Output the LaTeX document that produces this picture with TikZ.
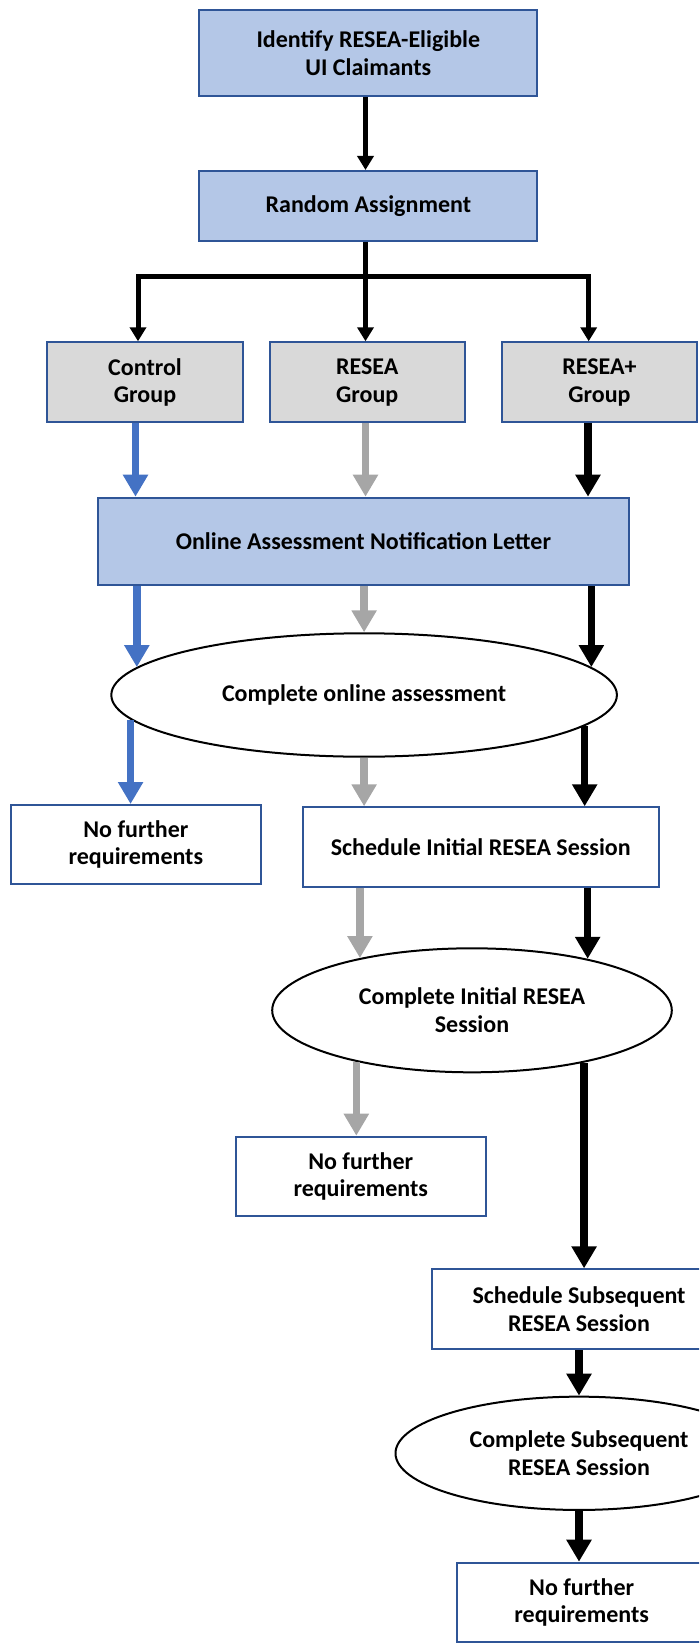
\documentclass[tikz,border=0pt]{standalone}
\usepackage{fontspec}
\setmainfont{Carlito}
\usetikzlibrary{shapes.geometric,arrows.meta}
\definecolor{boxblue}{HTML}{B4C7E7}
\definecolor{edgeblue}{HTML}{2F5597}
\definecolor{boxgray}{HTML}{D9D9D9}
\definecolor{arrblue}{HTML}{4472C4}
\definecolor{arrgray}{HTML}{A6A6A6}
\begin{document}
\begin{tikzpicture}[x=1pt,y=-1pt,
  every node/.style={font=\fontsize{24}{27.5}\selectfont\bfseries, align=center, inner sep=0pt},
  boxbase/.style={rectangle, draw=edgeblue, line width=2pt},
  bluebox/.style={boxbase, fill=boxblue},
  graybox/.style={boxbase, fill=boxgray},
  whitebox/.style={boxbase, fill=white},
  oval/.style={ellipse, draw=black, line width=2pt, fill=white},
  thinarr/.style={line width=5pt, line join=miter, -{Triangle[width=16pt,length=14pt]}},
  thickarr/.style={line width=7.5pt, -{Triangle[width=24pt,length=22pt]}},
]
\useasboundingbox (0,0) rectangle (699,1648);
\begin{scope}
\clip (0,0) rectangle (699,1648);
% nodes
\node[bluebox, minimum width=337.9pt, minimum height=85.7pt] (top) at (368.35,53.15) {Identify RESEA-Eligible\\UI Claimants};
\node[bluebox, minimum width=337.9pt, minimum height=69.7pt] (rand) at (368.35,205.85) {Random Assignment};
\node[graybox, minimum width=195.3pt, minimum height=80pt] (ctrl) at (145.05,382.3) {Control\\Group};
\node[graybox, minimum width=195.3pt, minimum height=80pt] (resea) at (367.25,382.3) {RESEA\\Group};
\node[graybox, minimum width=195pt, minimum height=80pt] (reseap) at (599.5,382.3) {RESEA+\\Group};
\node[bluebox, minimum width=531.9pt, minimum height=87.3pt] (letter) at (363.45,541.35) {Online Assessment Notification Letter};
\node[oval, minimum width=505.6pt, minimum height=123.4pt] (ell1) at (364.1,695) {Complete online assessment};
\node[whitebox, minimum width=249.4pt, minimum height=79pt] (nf1) at (135.9,844.5) {No further\\requirements};
\node[whitebox, minimum width=355.5pt, minimum height=79.4pt] (sch1) at (480.75,847) {Schedule Initial RESEA Session};
\node[oval, minimum width=399.6pt, minimum height=124pt] (ell2) at (472,1010.3) {Complete Initial RESEA\\Session};
\node[whitebox, minimum width=249.5pt, minimum height=79.3pt] (nf2) at (360.75,1176.35) {No further\\requirements};
\node[whitebox, minimum width=294pt, minimum height=79.7pt] (sch2) at (579,1309.2) {Schedule Subsequent\\RESEA Session};
\node[oval, minimum width=367pt, minimum height=113.3pt] (ell3) at (579,1453.3) {Complete Subsequent\\RESEA Session};
\node[whitebox, minimum width=250pt, minimum height=79pt] (nf3) at (581.7,1602.2) {No further\\requirements};
% helper coordinates
\coordinate (xc) at (365.5,0);
\coordinate (split) at (365.5,276.5);
\coordinate (bl) at (138,0);
\coordinate (br) at (588.7,0);
\coordinate (xb) at (135.5,0);
\coordinate (xk) at (588,0);
% top connectors
\draw[thinarr] (top.south -| xc) -- (rand.north -| xc);
\draw[thinarr] (rand.south -| xc) -- (resea.north -| xc);
\draw[thinarr] (split) -| (ctrl.north -| bl);
\draw[thinarr] (split) -| (reseap.north -| br);
% groups to letter
\draw[thickarr, arrblue] (ctrl.south -| xb) -- (letter.north -| xb);
\draw[thickarr, arrgray] (resea.south -| xc) -- (letter.north -| xc);
\draw[thickarr, black] (reseap.south -| xk) -- (letter.north -| xk);
% letter to ellipse 1
\draw[thickarr, arrblue] (letter.south -| ell1.173.1) -- (ell1.173.1);
\draw[thickarr, arrgray] (letter.south -| ell1.north) -- (ell1.north);
\draw[thickarr, black] (letter.south -| ell1.7.4) -- (ell1.7.4);
% ellipse 1 onward
\draw[thickarr, arrblue] (ell1.186.9) -- (nf1.north -| ell1.186.9);
\draw[thickarr, arrgray] (ell1.south) -- (sch1.north -| ell1.south);
\draw[thickarr, black] (ell1.352.6) -- (sch1.north -| ell1.352.6);
% schedule initial to ellipse 2
\draw[thickarr, arrgray] (sch1.south -| ell2.155.3) -- (ell2.155.3);
\draw[thickarr, black] (sch1.south -| ell2.24.4) -- (ell2.24.4);
% ellipse 2 onward
\draw[thickarr, arrgray] (ell2.204.7) -- (nf2.north -| ell2.204.7);
\draw[thickarr, black] (ell2.335.6) -- (sch2.north -| ell2.335.6);
% subsequent
\draw[thickarr, black] (sch2.south) -- (ell3.north);
\draw[thickarr, black] (ell3.south) -- (nf3.north -| ell3.south);
\end{scope}
\end{tikzpicture}
\end{document}
